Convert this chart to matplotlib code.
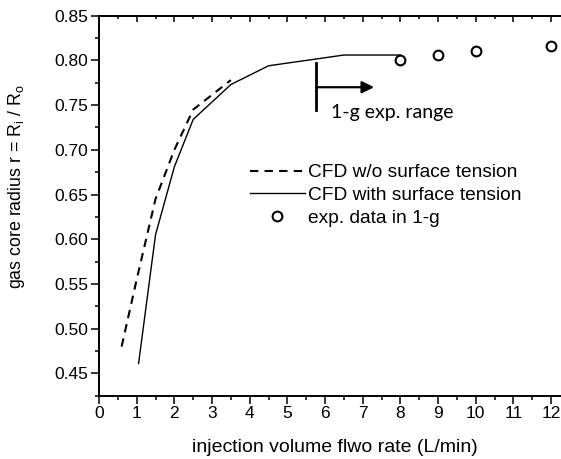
import numpy as np
import matplotlib
matplotlib.use("Agg")
from matplotlib import pyplot
from matplotlib.ticker import MultipleLocator

pyplot.rcParams['font.family'] = ['Liberation Sans', 'DejaVu Sans']
pyplot.rcParams['mathtext.default'] = 'regular'

# CFD without surface tension (dashed)
flowNoST = [0.6, 1.0, 1.5, 2.0, 2.5, 3.5]
radiusNoST = [0.480, 0.555, 0.645, 0.700, 0.745, 0.778]

# CFD with surface tension (solid)
flowST = [1.05, 1.5, 2.0, 2.5, 3.5, 4.5, 6.5, 8.0]
radiusST = [0.461, 0.605, 0.681, 0.734, 0.773, 0.794, 0.806, 0.806]

# experimental data in 1-g
flowExp = [8, 9, 10, 12]
radiusExp = [0.800, 0.806, 0.811, 0.816]

figure = pyplot.figure(figsize=(5.61, 4.59), dpi=100)
axis = figure.add_axes([0.1765, 0.1379, 0.8394, 0.8279])

axis.plot(flowNoST, radiusNoST, color='black', linewidth=1.5, linestyle=(0, (4, 3)),
          label='CFD w/o surface tension')
axis.plot(flowST, radiusST, color='black', linewidth=1.0, linestyle='-',
          label='CFD with surface tension')
axis.plot(flowExp, radiusExp, linestyle='none', marker='o', markersize=7,
          markerfacecolor='white', markeredgecolor='black', markeredgewidth=1.5,
          label='exp. data in 1-g')

# 1-g experimental range marker
axis.plot([5.77, 5.77], [0.744, 0.797], color='black', linewidth=2)
axis.annotate('', xy=(7.3, 0.770), xytext=(5.77, 0.770),
              arrowprops=dict(arrowstyle='-|>', color='black', lw=1.6, mutation_scale=18,
                              shrinkA=0, shrinkB=0))
axis.text(6.15, 0.742, '1-g exp. range', fontsize=14, family='Lato', va='center', ha='left')

axis.set_xlim(0, 12.5)
axis.set_ylim(0.425, 0.85)
axis.xaxis.set_major_locator(MultipleLocator(1))
axis.xaxis.set_minor_locator(MultipleLocator(0.5))
axis.yaxis.set_major_locator(MultipleLocator(0.05))
axis.yaxis.set_minor_locator(MultipleLocator(0.025))
axis.yaxis.set_major_formatter(pyplot.FormatStrFormatter('%.2f'))

for side in ['left', 'bottom', 'top']:
    axis.spines[side].set_linewidth(1.4)
axis.spines['right'].set_visible(False)

axis.tick_params(which='major', direction='out', length=6, width=1.1, labelsize=12.5, pad=1.5)
axis.tick_params(which='minor', direction='out', length=3, width=1.1)

top = axis.secondary_xaxis('top')
top.xaxis.set_major_locator(MultipleLocator(1))
top.xaxis.set_minor_locator(MultipleLocator(0.5))
top.tick_params(which='major', direction='in', length=4.5, width=1.1, labeltop=False)
top.tick_params(which='minor', direction='in', length=2.5, width=1.1)
top.spines['top'].set_linewidth(1.4)

axis.set_xlabel('injection volume flwo rate (L/min)', fontsize=14)
axis.set_ylabel('gas core radius r = R$_i$ / R$_o$', fontsize=12.8)
axis.yaxis.set_label_coords(-0.153, 0.55)
axis.xaxis.set_label_coords(0.5, -0.115)

axis.legend(loc='upper left', bbox_to_anchor=(0.32, 0.61), frameon=False,
            fontsize=13.8, handlelength=2.9, handletextpad=0.12, labelspacing=0.28,
            borderpad=0, borderaxespad=0)

pyplot.savefig('out.png', dpi=100)
